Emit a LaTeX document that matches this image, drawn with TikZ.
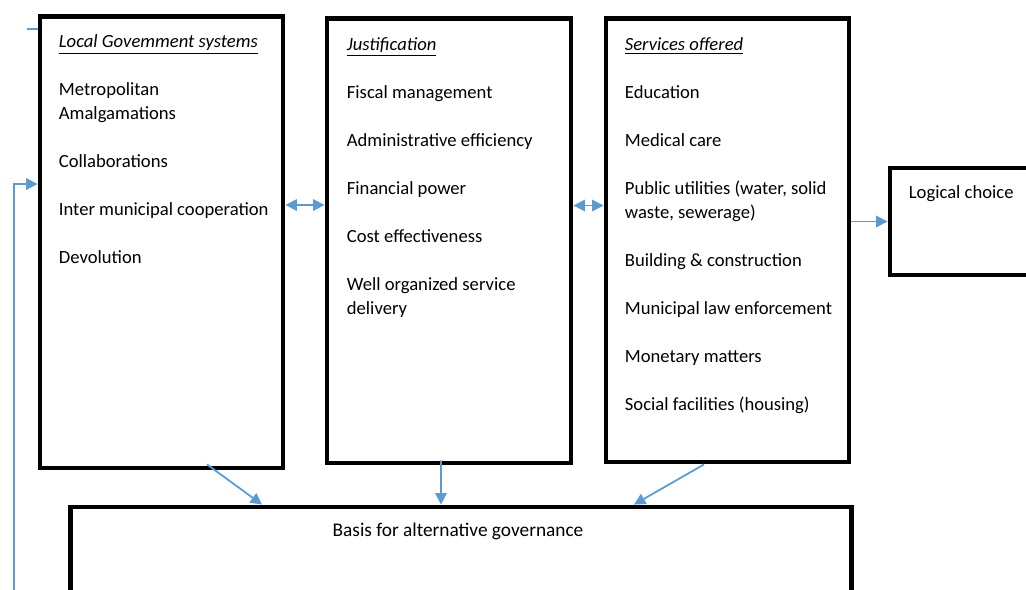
\documentclass[tikz,border=0pt]{standalone}
\usepackage{fontspec}
\setmainfont{Carlito}
\usetikzlibrary{arrows.meta, positioning, calc}
\definecolor{flowblue}{HTML}{5B9BD5}

\begin{document}
\begin{tikzpicture}[x=0.02cm, y=-0.02cm, every node/.style={font=\fontsize{10.6}{13.66}\selectfont}]
\tikzstyle{frame} = [rectangle, draw=black, line width=2.8pt, inner sep=0pt]
\tikzstyle{entry} = [align=left, inner sep=0pt, anchor=north west]
\tikzstyle{link} = [draw=flowblue, line width=1pt, -{Triangle[length=6.5pt, width=6.5pt]}]
\tikzstyle{twolink} = [draw=flowblue, line width=1pt, {Triangle[length=6.5pt, width=6.5pt]}-{Triangle[length=6.5pt, width=6.5pt]}]

\clip (0,0) rectangle (1026,589);

\node[frame, minimum width=4.86cm, minimum height=9.04cm] (lgs) at (161.5,242) {};
\node[frame, minimum width=4.88cm, minimum height=8.9cm] (jus) at (449,240.5) {};
\node[frame, minimum width=4.86cm, minimum height=8.88cm] (srv) at (727.5,240) {};
\node[frame, minimum width=3.1cm, minimum height=2.14cm] (lc) at (967.5,221.5) {};
\node[frame, minimum width=15.64cm, minimum height=2.26cm] (basis) at (461,563.5) {};

\node[entry] (lgstxt) at ([xshift=0.42cm, yshift=-0.42cm]lgs.north west) {\textit{\underline{Local Govemment systems}}\\[13.66pt] Metropolitan\\ Amalgamations\\[13.66pt] Collaborations\\[13.66pt] Inter municipal cooperation\\[13.66pt] Devolution};
\node[entry] (justxt) at ([xshift=0.44cm, yshift=-0.44cm]jus.north west) {\textit{\underline{Justification}}\\[13.66pt] Fiscal management\\[13.66pt] Administrative efficiency\\[13.66pt] Financial power\\[13.66pt] Cost effectiveness\\[13.66pt] Well organized service\\ delivery};
\node[entry] (srvtxt) at ([xshift=0.42cm, yshift=-0.44cm]srv.north west) {\textit{\underline{Services offered}}\\[13.66pt] Education\\[13.66pt] Medical care\\[13.66pt] Public utilities (water, solid\\ waste, sewerage)\\[13.66pt] Building \& construction\\[13.66pt] Municipal law enforcement\\[13.66pt] Monetary matters\\[13.66pt] Social facilities (housing)};
\node[entry] (lctxt) at ([xshift=0.42cm, yshift=-0.4cm]lc.north west) {Logical choice};
\node[entry, anchor=north, font=\fontsize{11}{13.66}\selectfont] (basistxt) at ([xshift=-0.06cm, yshift=-0.36cm]basis.north) {Basis for alternative governance};

\coordinate (fb) at (14,600);
\coordinate (tick) at (27,29);

\draw[twolink] ([yshift=0.74cm]lgs.east) -- ([yshift=0.74cm]lgs.east -| jus.west);
\draw[twolink] ([yshift=0.7cm]jus.east) -- ([yshift=0.7cm]jus.east -| srv.west);
\draw[link] (lc.west -| srv.east) -- (lc.west);
\draw[link] ([xshift=0.91cm, yshift=0.12cm]lgs.south) -- ([xshift=-3.98cm]basis.north);
\draw[link] ([xshift=-0.16cm, yshift=0.1cm]jus.south) -- ([xshift=-0.4cm]basis.north);
\draw[link] ([xshift=-0.47cm]srv.south) -- ([xshift=3.46cm]basis.north);
\draw[link] (fb) |- ([yshift=1.16cm]lgs.west);
\draw[draw=flowblue, line width=1pt] (tick) -- (tick -| lgs.west);

\end{tikzpicture}
\end{document}
